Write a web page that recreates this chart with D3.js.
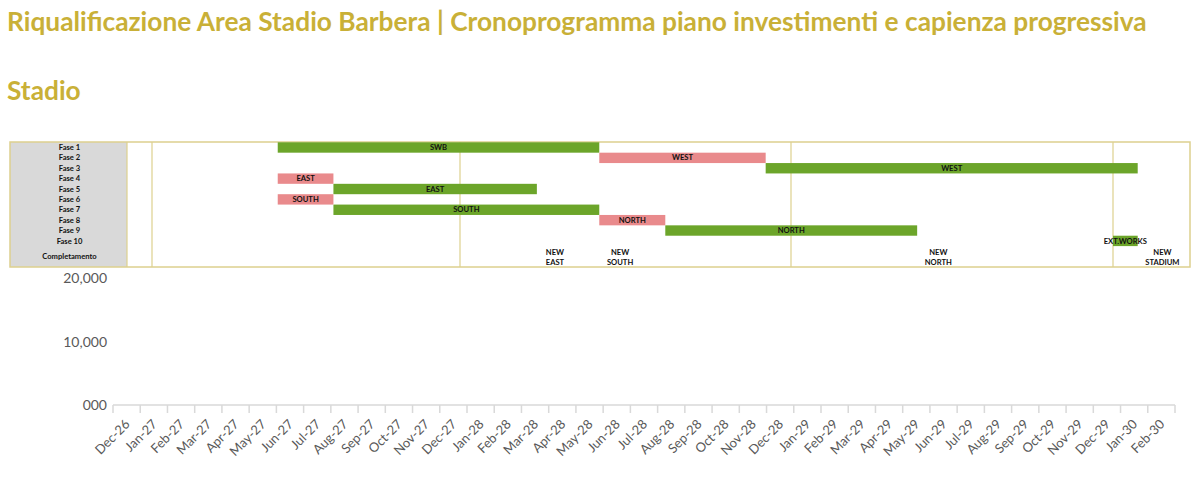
<!DOCTYPE html>
<html><head><meta charset="utf-8">
<script src="https://cdn.jsdelivr.net/npm/d3@7/dist/d3.min.js"></script>
<style>
body{margin:0;background:#fff;}
svg{display:block;font-family:Lato,"Open Sans",sans-serif;}
</style></head>
<body>
<svg id="c" width="1200" height="485"></svg>
<script>
// ---- data ----
const titleLines = ["Riqualificazione Area Stadio Barbera | Cronoprogramma piano investimenti e capienza progressiva", "Stadio"];
const months = ["Dec-26","Jan-27","Feb-27","Mar-27","Apr-27","May-27","Jun-27","Jul-27","Aug-27","Sep-27","Oct-27","Nov-27",
 "Dec-27","Jan-28","Feb-28","Mar-28","Apr-28","May-28","Jun-28","Jul-28","Aug-28","Sep-28","Oct-28","Nov-28",
 "Dec-28","Jan-29","Feb-29","Mar-29","Apr-29","May-29","Jun-29","Jul-29","Aug-29","Sep-29","Oct-29","Nov-29",
 "Dec-29","Jan-30","Feb-30"];
const yTicks = [0, 10000, 20000];
const yTickLabels = ["000", "10,000", "20,000"];

const phases = ["Fase 1","Fase 2","Fase 3","Fase 4","Fase 5","Fase 6","Fase 7","Fase 8","Fase 9","Fase 10"];
const phaseLabels = ["SWB","WEST","WEST","EAST","EAST","SOUTH","SOUTH","NORTH","NORTH","EXT.WORKS"];
const phaseStart = ["2027-05-30","2028-06-03","2028-12-04","2027-05-30","2027-08-04","2027-05-30","2027-08-04","2028-06-03","2028-08-15","2030-01-01"];
const phaseEnd   = ["2028-06-03","2028-12-04","2030-01-29","2027-08-04","2028-03-26","2027-08-04","2028-06-03","2028-08-15","2029-05-24","2030-01-29"];
const phaseType  = ["build","demo","build","demo","build","demo","build","demo","build","build"];
const completionLabels = [["NEW","EAST"],["NEW","SOUTH"],["NEW","NORTH"],["NEW","STADIUM"]];
const completionDates = ["2028-04-15","2028-06-26","2029-06-17","2030-02-26"];
const yearLines = ["2027-01-01","2028-01-01","2029-01-01","2030-01-01"];

// ---- styles ----
const gold = "#C9B037";
const gridGold = "#DDD08E";
const colors = {build:"#6CA52A", demo:"#E98A8C"};
const parse = d3.utcParse("%Y-%m-%d");
const fs = 7.6;

const svg = d3.select("#c");

// title
svg.append("text").attr("x",7).attr("y",31).attr("font-size",26.3).attr("font-weight",700).attr("fill",gold).text(titleLines[0]);
svg.append("text").attr("x",7).attr("y",100).attr("font-size",26.3).attr("font-weight",700).attr("fill",gold).text(titleLines[1]);

// ---- gantt table ----
const box = {x0:10, x1:1190, y0:142, y1:267, labelW:117};
const rowTop = 142.3, rowH = 10.38;
const tX = d3.scaleUtc()
  .domain(yearLines.map(parse))
  .range([152, 460, 791, 1113]);

const g = svg.append("g");
g.append("rect").attr("x",box.x0).attr("y",box.y0).attr("width",box.labelW).attr("height",box.y1-box.y0).attr("fill","#D9D9D9");
g.selectAll("line.yr").data(yearLines).join("line")
  .attr("x1",d=>tX(parse(d))).attr("x2",d=>tX(parse(d)))
  .attr("y1",box.y0).attr("y2",box.y1).attr("stroke",gridGold).attr("stroke-width",1.2);
g.append("line").attr("x1",box.x0+box.labelW).attr("x2",box.x0+box.labelW).attr("y1",box.y0).attr("y2",box.y1).attr("stroke",gridGold).attr("stroke-width",1.2);
g.append("rect").attr("x",box.x0).attr("y",box.y0).attr("width",box.x1-box.x0).attr("height",box.y1-box.y0)
  .attr("fill","none").attr("stroke",gridGold).attr("stroke-width",1.5);

// row labels
g.selectAll("text.ph").data(phases).join("text")
  .attr("x",box.x0+box.labelW/2+1).attr("y",(d,i)=>rowTop+i*rowH+rowH/2+2.6)
  .attr("text-anchor","middle").attr("font-size",fs).attr("font-weight",700).attr("fill","#111").text(d=>d);
g.append("text").attr("x",box.x0+box.labelW/2+1).attr("y",259)
  .attr("text-anchor","middle").attr("font-size",fs).attr("font-weight",700).attr("fill","#111").text("Completamento");

// bars
const bars = phases.map((p,i)=>({p, i, label:phaseLabels[i], s:parse(phaseStart[i]), e:parse(phaseEnd[i]), t:phaseType[i]}));
g.selectAll("rect.bar").data(bars).join("rect")
  .attr("x",d=>tX(d.s)).attr("width",d=>tX(d.e)-tX(d.s))
  .attr("y",d=>rowTop+d.i*rowH).attr("height",rowH)
  .attr("fill",d=>colors[d.t]);
g.selectAll("text.bl").data(bars).join("text")
  .attr("x",d=>(tX(d.s)+tX(d.e))/2).attr("y",d=>rowTop+d.i*rowH+rowH/2+2.6)
  .attr("text-anchor","middle").attr("font-size",fs).attr("font-weight",700).attr("fill","#111").text(d=>d.label);

// completion labels
const comp = g.selectAll("text.cp").data(completionLabels).join("text")
  .attr("text-anchor","middle").attr("font-size",fs).attr("font-weight",700).attr("fill","#111");
comp.each(function(lines,i){
  const x = tX(parse(completionDates[i]));
  d3.select(this).selectAll("tspan").data(lines).join("tspan")
    .attr("x",x).attr("y",(d,j)=>254.5+j*10.5).text(d=>d);
});

// ---- capacity chart ----
const x = d3.scaleBand().domain(months).range([113,1175]);
const y = d3.scaleLinear().domain([0,20000]).range([405,278]);

svg.selectAll("text.yl").data(yTicks).join("text")
  .attr("x",107).attr("y",d=>y(d)+5).attr("text-anchor","end")
  .attr("font-size",14).attr("fill","#595959").text((d,i)=>yTickLabels[i]);

const xa = svg.append("g").attr("transform","translate(0,405)");
xa.append("line").attr("x1",113).attr("x2",1175).attr("stroke","#D9D9D9").attr("stroke-width",1.5);
const bounds = months.map(m=>x(m)).concat([x(months[months.length-1])+x.bandwidth()]);
xa.selectAll("line.tk").data(bounds).join("line")
  .attr("x1",d=>d).attr("x2",d=>d).attr("y1",0).attr("y2",8)
  .attr("stroke","#D9D9D9").attr("stroke-width",1.5);
xa.selectAll("text.xl").data(months).join("text")
  .attr("transform",d=>`translate(${x(d)+x.bandwidth()/2+4},${20}) rotate(-45)`)
  .attr("text-anchor","end").attr("font-size",13).attr("fill","#595959").text(d=>d);
</script>
</body></html>
